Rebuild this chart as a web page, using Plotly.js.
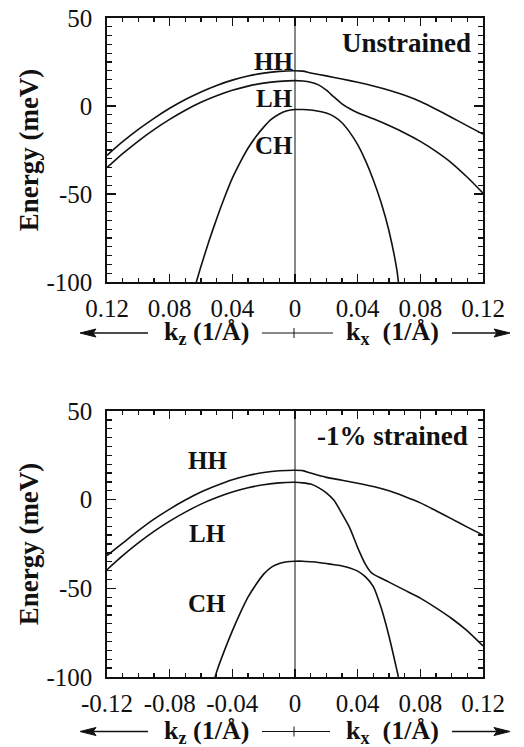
<!DOCTYPE html>
<html>
<head>
<meta charset="utf-8">
<script src="https://cdn.plot.ly/plotly-3.0.1.min.js"></script>
<style>
  html, body { margin: 0; padding: 0; background: #fff; }
  #chart { width: 524px; height: 747px; }
</style>
</head>
<body>
<div id="chart"></div>
<script>
// ---------- Data (k in 1/Å: negative = k_z side, positive = k_x side; E in meV) ----------
// Unstrained panel
const topHH_k = [-0.12,-0.11,-0.10,-0.09,-0.08,-0.07,-0.06,-0.05,-0.04,-0.03,-0.02,-0.01,0,0.005,0.01,0.02,0.03,0.04,0.05,0.06,0.07,0.08,0.09,0.10,0.11,0.12];
const topHH_E = [-28,-20.3,-13.3,-7,-1.3,3.7,8,11.7,14.7,17,18.7,19.7,20,19.8,18.8,17.1,15.3,13.5,11.4,9.0,6.1,2.6,-1.8,-6.5,-11.3,-16];

const topLH_k = [-0.12,-0.11,-0.10,-0.09,-0.08,-0.07,-0.06,-0.05,-0.04,-0.03,-0.02,-0.01,0,0.005,0.01,0.015,0.02,0.025,0.03,0.035,0.04,0.05,0.06,0.07,0.08,0.09,0.10,0.11,0.12];
const topLH_E = [-35,-27.1,-19.9,-13.4,-7.6,-2.4,2.1,5.8,8.9,11.3,13,14,14.4,14.2,13.5,12,9,5,1.2,-1.6,-3.8,-7.3,-11.1,-15.3,-20.1,-25.8,-32.4,-40.5,-49.5];

const topCH_k = [-0.063,-0.06,-0.055,-0.05,-0.045,-0.04,-0.035,-0.03,-0.025,-0.02,-0.015,-0.01,-0.005,0,0.005,0.01,0.015,0.02,0.025,0.03,0.035,0.04,0.045,0.05,0.055,0.06,0.065,0.066];
const topCH_E = [-100,-91,-77,-64,-52,-41,-32,-24,-17.5,-12,-7.5,-4.5,-2.7,-2,-2,-2.3,-3,-4,-6,-9.5,-15,-22,-31,-42,-55,-71,-93,-100];

// -1% strained panel
const botHH_k = [-0.12,-0.11,-0.10,-0.09,-0.08,-0.07,-0.06,-0.05,-0.04,-0.03,-0.02,-0.01,0,0.005,0.01,0.02,0.03,0.04,0.05,0.06,0.07,0.08,0.09,0.10,0.11,0.12];
const botHH_E = [-31.5,-24.5,-17.5,-11,-5.3,-0.2,4.3,8,11.2,13.6,15.3,16.3,16.6,16.4,15,12.6,11,9.3,7.4,5,1.8,-1.8,-6.2,-10.8,-15.5,-20];

const botLH_k = [-0.12,-0.11,-0.10,-0.09,-0.08,-0.07,-0.06,-0.05,-0.04,-0.03,-0.02,-0.01,0,0.005,0.01,0.015,0.02,0.025,0.03,0.035,0.04,0.045,0.048,0.05,0.06,0.07,0.08,0.09,0.10,0.11,0.12];
const botLH_E = [-39.5,-31.6,-24.4,-17.9,-12.1,-7,-2.5,1.2,4.3,6.7,8.4,9.5,9.8,9.5,8.8,6.8,3.8,-0.5,-8,-16,-27,-36.5,-40.5,-42,-46.5,-51,-55.5,-61,-67,-74,-82.5];

const botCH_k = [-0.051,-0.05,-0.045,-0.04,-0.035,-0.03,-0.025,-0.02,-0.015,-0.01,-0.005,0,0.005,0.01,0.015,0.02,0.025,0.03,0.035,0.04,0.045,0.05,0.055,0.06,0.065,0.066];
const botCH_E = [-100,-97,-85,-74,-64,-55,-48,-42,-38,-36,-35,-34.7,-34.7,-35,-35.4,-36,-36.7,-37.4,-38.5,-40.3,-43.5,-49,-61,-77,-96,-100];

// Tick labels
const xTickVals = [-0.12,-0.08,-0.04,0,0.04,0.08,0.12];
const xTickTextTop = ["0.12","0.08","0.04","0","0.04","0.08","0.12"];
const xTickTextBot = ["-0.12","-0.08","-0.04","0","0.04","0.08","0.12"];
const yTickVals = [50,0,-50,-100];
const yTickText = ["50","0","-50","-100"];

// Band labels
const bandNames = ["HH","LH","CH"];
const topLabelK = [-0.0138,-0.0134,-0.0134];
const topLabelE = [25.2,4,-22.5];
const botLabelK = [-0.056,-0.056,-0.056];
const botLabelE = [22.2,-18.8,-58.3];
const panelTitles = ["Unstrained","-1% strained"];

// ---------- Figure ----------
const serif = "'Liberation Serif', 'Times New Roman', Times, serif";
const lineStyle = {color:"#111", width:1.6, shape:"spline", smoothing:0.6};

function tr(k,E,xa,ya,name){
  return {x:k, y:E, xaxis:xa, yaxis:ya, mode:"lines", line:lineStyle, name:name, hoverinfo:"skip", showlegend:false};
}
const data = [
  tr(topHH_k,topHH_E,"x","y","HH"),
  tr(topLH_k,topLH_E,"x","y","LH"),
  tr(topCH_k,topCH_E,"x","y","CH"),
  tr(botHH_k,botHH_E,"x2","y2","HH"),
  tr(botLH_k,botLH_E,"x2","y2","LH"),
  tr(botCH_k,botCH_E,"x2","y2","CH")
];

const tickFont = {family:serif, size:25, color:"#111"};
function xAxis(ticktext, anchor){
  return {
    range:[-0.12,0.12], domain:[0,1], anchor:anchor,
    tickvals:xTickVals, ticktext:ticktext, tickfont:tickFont,
    ticks:"inside", ticklen:8, tickwidth:1.4, tickcolor:"#111",
    minor:{dtick:0.01, tick0:0, ticks:"inside", ticklen:4, tickwidth:1.3, tickcolor:"#111"},
    showline:true, linecolor:"#111", linewidth:1.7, mirror:"allticks",
    showgrid:false, zeroline:false, ticklabelstandoff:3, fixedrange:true
  };
}
function yAxis(domain, anchor){
  return {
    range:[-100,50], domain:domain, anchor:anchor,
    tickvals:yTickVals, ticktext:yTickText, tickfont:tickFont,
    ticks:"inside", ticklen:9, tickwidth:1.4, tickcolor:"#111",
    minor:{dtick:5, tick0:0, ticks:"inside", ticklen:5, tickwidth:1.3, tickcolor:"#111"},
    showline:true, linecolor:"#111", linewidth:1.7, mirror:"allticks",
    showgrid:false, zeroline:false, ticklabelstandoff:8, fixedrange:true,
    title:{text:"Energy (meV)", font:{family:serif, size:27, weight:"bold", color:"#111"}, standoff:0}
  };
}

const boldFont = (s) => ({family:serif, size:s, weight:"bold", color:"#111"});
const annotations = [];
bandNames.forEach((n,i) => {
  annotations.push({xref:"x", yref:"y", x:topLabelK[i], y:topLabelE[i], text:n, showarrow:false, font:boldFont(25), xanchor:"center", yanchor:"middle"});
  annotations.push({xref:"x2", yref:"y2", x:botLabelK[i], y:botLabelE[i], text:n, showarrow:false, font:boldFont(25), xanchor:"center", yanchor:"middle"});
});
annotations.push({xref:"x", yref:"y", x:0.1136, y:36, text:panelTitles[0], showarrow:false, font:boldFont(27), xanchor:"right", yanchor:"middle"});
annotations.push({xref:"x2", yref:"y2", x:0.1117, y:35.7, text:panelTitles[1], showarrow:false, font:boldFont(27), xanchor:"right", yanchor:"middle"});

// k-axis captions with arrows (paper coords: x=(px-107)/376, y=(677-py)/659)
const shapes = [
  {type:"line", xref:"x", yref:"y domain", x0:0, x1:0, y0:0, y1:1, line:{color:"#111", width:1}},
  {type:"line", xref:"x2", yref:"y2 domain", x0:0, x1:0, y0:0, y1:1, line:{color:"#111", width:1}}
];
const px = (v) => (v-107)/376;
const py = (v) => (677-v)/659;
[[333, [262,333]], [731.5, [262,330]]].forEach(([yy, seg]) => {
  const yp = py(yy);
  annotations.push({xref:"paper", yref:"paper", x:px(206), y:yp, text:"k<sub>z</sub> (1/Å)", showarrow:false, font:boldFont(26), xanchor:"center", yanchor:"middle"});
  annotations.push({xref:"paper", yref:"paper", x:px(392.5), y:yp, text:"k<sub>x</sub>\u00a0\u00a0(1/Å)", showarrow:false, font:boldFont(26), xanchor:"center", yanchor:"middle"});
  // left arrow
  shapes.push({type:"line", xref:"paper", yref:"paper", x0:px(90), x1:px(148), y0:yp, y1:yp, line:{color:"#111", width:1.6}});
  shapes.push({type:"path", xref:"paper", yref:"paper",
    path:`M ${px(80)} ${yp} L ${px(96)} ${py(yy-4)} L ${px(93)} ${yp} L ${px(96)} ${py(yy+4)} Z`,
    fillcolor:"#111", line:{color:"#111", width:1}});
  // right arrow
  shapes.push({type:"line", xref:"paper", yref:"paper", x0:px(452), x1:px(500), y0:yp, y1:yp, line:{color:"#111", width:1.6}});
  shapes.push({type:"path", xref:"paper", yref:"paper",
    path:`M ${px(510)} ${yp} L ${px(494)} ${py(yy-4)} L ${px(497)} ${yp} L ${px(494)} ${py(yy+4)} Z`,
    fillcolor:"#111", line:{color:"#111", width:1}});
  // middle segment with tick
  shapes.push({type:"line", xref:"paper", yref:"paper", x0:px(seg[0]), x1:px(seg[1]), y0:yp, y1:yp, line:{color:"#111", width:1}});
  shapes.push({type:"line", xref:"paper", yref:"paper", x0:px(294), x1:px(294), y0:py(yy+5), y1:py(yy-5), line:{color:"#111", width:1}});
});

const layout = {
  width:524, height:747,
  margin:{l:107, r:41, t:18, b:70},
  paper_bgcolor:"#fff", plot_bgcolor:"#fff",
  font:{family:serif, color:"#111"},
  showlegend:false,
  xaxis: xAxis(xTickTextTop, "y"),
  yaxis: yAxis([0.5994,1], "x"),
  xaxis2: xAxis(xTickTextBot, "y2"),
  yaxis2: yAxis([0,0.4036], "x2"),
  annotations: annotations,
  shapes: shapes
};

Plotly.newPlot("chart", data, layout, {displayModeBar:false, staticPlot:true});
</script>
</body>
</html>
